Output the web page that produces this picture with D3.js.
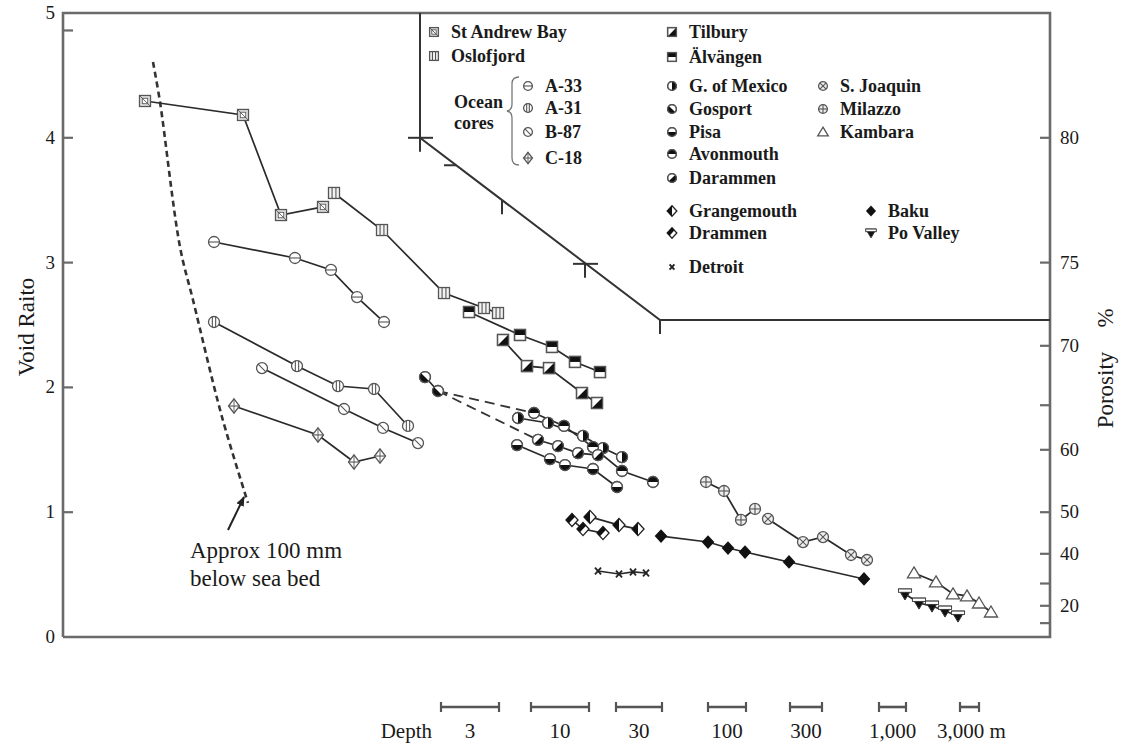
<!DOCTYPE html>
<html><head><meta charset="utf-8">
<script src="https://cdn.jsdelivr.net/npm/d3@7"></script>
<style>
html,body{margin:0;padding:0;background:#fff;}
svg{display:block;}
text{font-family:"Liberation Serif","Times New Roman",serif;fill:#1a1a1a;}
</style></head>
<body>
<svg id="chart" width="1127" height="745"></svg>
<script>
// ---------------- DATA ----------------
// x: relative position along the (unlabelled) horizontal axis, y: void ratio e
const stAndrewBay = [[82,4.295],[180,4.183],[218,3.381],[260,3.446]];
const oslofjord   = [[271,3.558],[319,3.261],[381,2.756],[421,2.636],[435,2.596]];
const tilbury     = [[440,2.380],[464,2.171],[486,2.155],[519,1.955],[534,1.875]];
const alvangen    = [[406,2.604],[457,2.420],[489,2.324],[512,2.204],[537,2.123]];
const a33         = [[151,3.165],[232,3.037],[268,2.941],[294,2.724],[321,2.524]];
const a31         = [[151,2.524],[234,2.171],[275,2.011],[311,1.987],[345,1.691]];
const b87         = [[199,2.155],[281,1.827],[320,1.675],[355,1.554]];
const c18         = [[171,1.851],[255,1.619],[291,1.402],[317,1.450]];
const gosport     = [[362,2.083],[375,1.971]];
const gMexico     = [[455,1.755],[485,1.715],[520,1.611],[540,1.514],[559,1.442]];
const avonmouth   = [[471,1.795],[501,1.691],[530,1.522],[559,1.330],[590,1.242]];
const darammen    = [[475,1.579],[495,1.530],[515,1.474],[535,1.458]];
const pisa        = [[454,1.538],[487,1.426],[502,1.378],[530,1.346],[554,1.202]];
const grangemouth = [[527,0.962],[556,0.897],[575,0.865]];
const drammen     = [[509,0.938],[520,0.865],[540,0.833]];
const detroit     = [[535,0.529],[556,0.505],[570,0.521],[583,0.513]];
const baku        = [[598,0.809],[645,0.761],[665,0.713],[682,0.681],[726,0.601],[801,0.465]];
const milazzo     = [[643,1.242],[661,1.170],[678,0.938],[692,1.026]];
const sJoaquin    = [[705,0.946],[740,0.761],[760,0.801],[788,0.657],[804,0.617]];
const kambara     = [[851,0.513],[873,0.441],[890,0.345],[904,0.329],[916,0.272],[928,0.200]];
const poValley    = [[842,0.345],[856,0.272],[869,0.248],[882,0.208],[895,0.168]];

// dashed links from the Gosport shallow points to the deeper clusters
const dashedLinks = [[[375,1.971],[471,1.795]],[[375,1.971],[475,1.579]]];
// "Approx 100 mm below sea bed" curve
const seaBedCurve = [[90,4.607],[97,4.287],[117,3.125],[130,2.700],[159,1.763],[185,1.074]];
const seaBedArrow = [[165,0.857],[181,1.122]];
// stepped boundary line
const stepLine = [[357,5],[357,4.0],[597,2.54],[987,2.54]];
const stepTicks = [[357,4.0,"lrd"],[393,3.78,"l"],[439,3.50,"d"],[522,2.99,"lrd"],[597,2.54,"d"]];

const voidTicks = [0,1,2,3,4,5];
const voidMinorTicks = [4.86];
const porosityTicks = [80,75,70,65,60,50,40,30,20,10];
const porosityLabels = [80,75,70,60,50,40,20];

const depthLabels = ["3","10","30","100","300","1,000","3,000 m"];
const depthBars = [[378,436],[468,526],[553,599],[645,683],[727,759],[816,843],[897,916]];

const series = [
  {name:"St Andrew Bay", pts:stAndrewBay, m:"sqDiag"},
  {name:"Oslofjord", pts:oslofjord, m:"sqBars"},
  {name:"Tilbury", pts:tilbury, m:"sqTri"},
  {name:"Älvängen", pts:alvangen, m:"sqTop"},
  {name:"A-33", pts:a33, m:"cH"},
  {name:"A-31", pts:a31, m:"cV"},
  {name:"B-87", pts:b87, m:"cD"},
  {name:"C-18", pts:c18, m:"dV"},
  {name:"G. of Mexico", pts:gMexico, m:"cRight"},
  {name:"Gosport", pts:gosport, m:"cBL"},
  {name:"Pisa", pts:pisa, m:"cBottom"},
  {name:"Avonmouth", pts:avonmouth, m:"cTop"},
  {name:"Darammen", pts:darammen, m:"cBR"},
  {name:"Grangemouth", pts:grangemouth, m:"dLeft"},
  {name:"Drammen", pts:drammen, m:"dBL"},
  {name:"Detroit", pts:detroit, m:"x"},
  {name:"S. Joaquin", pts:sJoaquin, m:"cX"},
  {name:"Milazzo", pts:milazzo, m:"cPlus"},
  {name:"Kambara", pts:kambara, m:"triUp"},
  {name:"Baku", pts:baku, m:"dBlack"},
  {name:"Po Valley", pts:poValley, m:"triDown"}
];

// ---------------- LAYOUT ----------------
const L=63, R=1050, T=13, B=637;
const svg = d3.select("#chart");
const x = d3.scaleLinear().domain([0,987]).range([L,R]);
const y = d3.scaleLinear().domain([0,5]).range([B,T]);
const line = d3.line().x(d=>x(d[0])).y(d=>y(d[1]));

// frame
const axisCol = "#6a6a6a";
svg.append("path").attr("d",`M${L},${B}V${T}H${R}V${B}H${L}`)
  .attr("fill","none").attr("stroke",axisCol).attr("stroke-width",2.6);

// left ticks
svg.append("g").selectAll("line").data(voidTicks.filter(v=>v>0&&v<5).concat(voidMinorTicks)).join("line")
  .attr("x1",L).attr("x2",L+10).attr("y1",d=>y(d)).attr("y2",d=>y(d))
  .attr("stroke",axisCol).attr("stroke-width",2.2);
svg.append("g").selectAll("text").data(voidTicks).join("text")
  .attr("x",L-8).attr("y",d=>y(d)+6).attr("text-anchor","end").attr("font-size",19).text(d=>d);

// right porosity axis (e = n/(100-n))
const eOfN = n=>n/(100-n);
svg.append("g").selectAll("line").data(porosityTicks).join("line")
  .attr("x1",R-10).attr("x2",R).attr("y1",d=>y(eOfN(d))).attr("y2",d=>y(eOfN(d)))
  .attr("stroke",axisCol).attr("stroke-width",2.2);
svg.append("g").selectAll("text").data(porosityLabels).join("text")
  .attr("x",R+10).attr("y",d=>y(eOfN(d))+6).attr("font-size",19).text(d=>d);

// axis titles
svg.append("text").attr("transform",`translate(34,${327}) rotate(-90)`)
  .attr("text-anchor","middle").attr("font-size",23).text("Void Raito");
svg.append("text").attr("transform",`translate(1113,${390}) rotate(-90)`)
  .attr("text-anchor","middle").attr("font-size",23).text("Porosity");
svg.append("text").attr("transform",`translate(1113,${318}) rotate(-90)`)
  .attr("text-anchor","middle").attr("font-size",23).text("%");

// stepped boundary
const stepCol="#333";
svg.append("path").attr("d",line(stepLine)).attr("fill","none").attr("stroke",stepCol).attr("stroke-width",2);
stepTicks.forEach(([tx,te,dir])=>{
  const px=x(tx), py=y(te);
  if(dir.includes("l")) svg.append("line").attr("x1",px-12).attr("x2",px).attr("y1",py).attr("y2",py).attr("stroke",stepCol).attr("stroke-width",2);
  if(dir.includes("r")) svg.append("line").attr("x1",px).attr("x2",px+13).attr("y1",py).attr("y2",py).attr("stroke",stepCol).attr("stroke-width",2);
  if(dir.includes("d")) svg.append("line").attr("x1",px).attr("x2",px).attr("y1",py).attr("y2",py+14).attr("stroke",stepCol).attr("stroke-width",2);
});

// sea-bed dashed curve and arrow
svg.append("path").attr("d",d3.line().x(d=>x(d[0])).y(d=>y(d[1])).curve(d3.curveCatmullRom)(seaBedCurve))
  .attr("fill","none").attr("stroke","#333").attr("stroke-width",2.6).attr("stroke-dasharray","6,4");
svg.append("defs").append("marker").attr("id","ah").attr("viewBox","0 0 10 10").attr("refX",9).attr("refY",5)
  .attr("markerWidth",5).attr("markerHeight",5).attr("orient","auto")
  .append("path").attr("d","M0,1L10,5L0,9Z").attr("fill","#222");
svg.append("line").attr("x1",x(seaBedArrow[0][0])).attr("y1",y(seaBedArrow[0][1]))
  .attr("x2",x(seaBedArrow[1][0])).attr("y2",y(seaBedArrow[1][1]))
  .attr("stroke","#222").attr("stroke-width",2).attr("marker-end","url(#ah)");
svg.append("text").attr("x",190).attr("y",558).attr("font-size",23).text("Approx 100 mm");
svg.append("text").attr("x",190).attr("y",586).attr("font-size",23).text("below sea bed");

// dashed links
dashedLinks.forEach(l=>svg.append("path").attr("d",line(l)).attr("fill","none")
  .attr("stroke","#333").attr("stroke-width",1.8).attr("stroke-dasharray","10,6"));

// ---------------- MARKERS ----------------
const mk = "#555";
function marker(g, type, cx, cy, sc){
  const s = 5.5*sc;
  const grp = g.append("g").attr("transform",`translate(${cx},${cy})`);
  const sw = 1.3;
  const circ = (fill)=>grp.append("circle").attr("r",s).attr("fill",fill||"#fff").attr("stroke",mk).attr("stroke-width",sw);
  const sq = (fill)=>grp.append("rect").attr("x",-s).attr("y",-s).attr("width",2*s).attr("height",2*s).attr("fill",fill||"#fff").attr("stroke",mk).attr("stroke-width",sw);
  const ln = (x1,y1,x2,y2,w)=>grp.append("line").attr("x1",x1).attr("y1",y1).attr("x2",x2).attr("y2",y2).attr("stroke",mk).attr("stroke-width",w||1.1);
  const arcHalf = (a0)=>{
    grp.append("path").attr("d",d3.arc()({innerRadius:0,outerRadius:s,startAngle:a0,endAngle:a0+Math.PI})).attr("fill","#111");
  };
  switch(type){
    case "sqDiag": sq("#e6e6e6"); grp.append("rect").attr("x",-s*0.5).attr("y",-s*0.5).attr("width",s).attr("height",s).attr("fill","#fff").attr("stroke",mk).attr("stroke-width",0.9); ln(-s,-s,s,s,0.9); break;
    case "sqBars": sq("#f2f2f2"); ln(-s*0.35,-s,-s*0.35,s); ln(s*0.35,-s,s*0.35,s); break;
    case "sqTri": sq(); grp.append("path").attr("d",`M${s},${-s}L${s},${s}L${-s},${s}Z`).attr("fill","#111"); sq("none"); break;
    case "sqTop": sq(); grp.append("rect").attr("x",-s).attr("y",-s).attr("width",2*s).attr("height",s).attr("fill","#111"); sq("none"); break;
    case "cH": circ(); ln(-s,0,s,0); break;
    case "cV": circ(); ln(-s*0.3,-s,-s*0.3,s); ln(s*0.3,-s,s*0.3,s); break;
    case "cD": circ(); ln(-s*0.7,-s*0.7,s*0.7,s*0.7); break;
    case "dV": grp.append("path").attr("d",`M0,${-s*1.3}L${s},0L0,${s*1.3}L${-s},0Z`).attr("fill","#fff").attr("stroke",mk).attr("stroke-width",sw); ln(-s,0,s,0); ln(0,-s*1.3,0,s*1.3,0.9); break;
    case "cRight": circ(); arcHalf(0); circ("none"); break;
    case "cBottom": circ(); arcHalf(Math.PI/2); circ("none"); break;
    case "cTop": circ(); arcHalf(-Math.PI/2); circ("none"); break;
    case "cBL": circ(); arcHalf(Math.PI*3/4); circ("none"); break;
    case "cBR": circ(); arcHalf(Math.PI/4); circ("none"); break;
    case "dLeft": grp.append("path").attr("d",`M0,${-s*1.2}L${s*1.1},0L0,${s*1.2}L${-s*1.1},0Z`).attr("fill","#fff").attr("stroke","#222").attr("stroke-width",sw);
      grp.append("path").attr("d",`M0,${-s*1.2}L0,${s*1.2}L${-s*1.1},0Z`).attr("fill","#111"); break;
    case "dBL": grp.append("path").attr("d",`M0,${-s*1.2}L${s*1.1},0L0,${s*1.2}L${-s*1.1},0Z`).attr("fill","#fff").attr("stroke","#222").attr("stroke-width",sw);
      grp.append("path").attr("d",`M${-s*1.1},0L0,${-s*1.2}L${s*0.55},${-s*0.6}L${-s*0.55},${s*0.6}Z`).attr("fill","#111"); break;
    case "x": ln(-s*0.55,-s*0.6,s*0.55,s*0.6,1.8); ln(-s*0.55,s*0.6,s*0.55,-s*0.6,1.8); grp.selectAll("line").attr("stroke","#222"); break;
    case "cX": circ("#eee"); ln(-s*0.7,-s*0.7,s*0.7,s*0.7); ln(-s*0.7,s*0.7,s*0.7,-s*0.7); break;
    case "cPlus": circ("#eee"); ln(-s,0,s,0); ln(0,-s,0,s); break;
    case "triUp": grp.append("path").attr("d",`M0,${-s*1.1}L${s*1.2},${s*0.9}L${-s*1.2},${s*0.9}Z`).attr("fill","#fff").attr("stroke",mk).attr("stroke-width",sw); break;
    case "dBlack": grp.append("path").attr("d",`M0,${-s*1.25}L${s*1.15},0L0,${s*1.25}L${-s*1.15},0Z`).attr("fill","#111"); break;
    case "triDown": grp.append("path").attr("d",`M${-s*1.2},${-s*0.9}L${s*1.2},${-s*0.9}L0,${s*1.1}Z`).attr("fill","#111").attr("stroke","#333").attr("stroke-width",1);
      grp.append("rect").attr("x",-s*1.2).attr("y",-s*0.9).attr("width",s*2.4).attr("height",s*0.6).attr("fill","#fff").attr("stroke","#333").attr("stroke-width",0.9); break;
  }
}

// series lines then markers
const gLines = svg.append("g");
const gMarks = svg.append("g");
series.forEach(sr=>{
  gLines.append("path").attr("d",line(sr.pts)).attr("fill","none").attr("stroke","#2a2a2a").attr("stroke-width",1.7);
});
series.forEach(sr=>{
  sr.pts.forEach(p=>marker(gMarks, sr.m, x(p[0]), y(p[1]), 1));
});

// ---------------- LEGEND ----------------
const legendLayout = {
  "St Andrew Bay":[434,32],"Oslofjord":[434,56],
  "A-33":[528,86],"A-31":[528,108],"B-87":[528,132],"C-18":[528,158],
  "Tilbury":[672,32],"Älvängen":[672,57],"G. of Mexico":[672,86],"Gosport":[672,109],
  "Pisa":[672,132],"Avonmouth":[672,154],"Darammen":[672,178],"Grangemouth":[672,211],
  "Drammen":[672,233],"Detroit":[672,267],
  "S. Joaquin":[823,86],"Milazzo":[823,109],"Kambara":[823,132],"Baku":[871,211],"Po Valley":[871,233]
};
const gLeg = svg.append("g");
series.forEach(sr=>{
  const [lx,ly] = legendLayout[sr.name];
  marker(gLeg, sr.m, lx, ly, 0.8);
  gLeg.append("text").attr("x",lx+17).attr("y",ly+6).attr("font-size",18).attr("font-weight","bold").text(sr.name);
});
gLeg.append("text").attr("x",454).attr("y",108).attr("font-size",18).attr("font-weight","bold").text("Ocean");
gLeg.append("text").attr("x",454).attr("y",129).attr("font-size",18).attr("font-weight","bold").text("cores");
gLeg.append("path").attr("d","M519,77 Q512,77 512,84 L512,104 Q512,110 507,111 Q512,112 512,118 L512,158 Q512,165 519,165")
  .attr("fill","none").attr("stroke","#777").attr("stroke-width",1.3);

// ---------------- DEPTH SCALE BARS ----------------
const barY = 707;
const gBars = svg.append("g");
depthBars.forEach((b,i)=>{
  const x1=x(b[0]), x2=x(b[1]);
  gBars.append("line").attr("x1",x1).attr("x2",x2).attr("y1",barY).attr("y2",barY).attr("stroke","#555").attr("stroke-width",2.6);
  [x1,x2].forEach(xx=>gBars.append("line").attr("x1",xx).attr("x2",xx).attr("y1",barY-5).attr("y2",barY+5).attr("stroke","#555").attr("stroke-width",2.2));
  const lab = depthLabels[i];
  const cx = (x1+x2)/2 + (lab.endsWith(" m") ? 2 : 0);
  gBars.append("text").attr("x",cx).attr("y",738).attr("text-anchor","middle").attr("font-size",21).text(lab);
});
gBars.append("text").attr("x",432).attr("y",738).attr("text-anchor","end").attr("font-size",21).text("Depth");
</script>
</body></html>
